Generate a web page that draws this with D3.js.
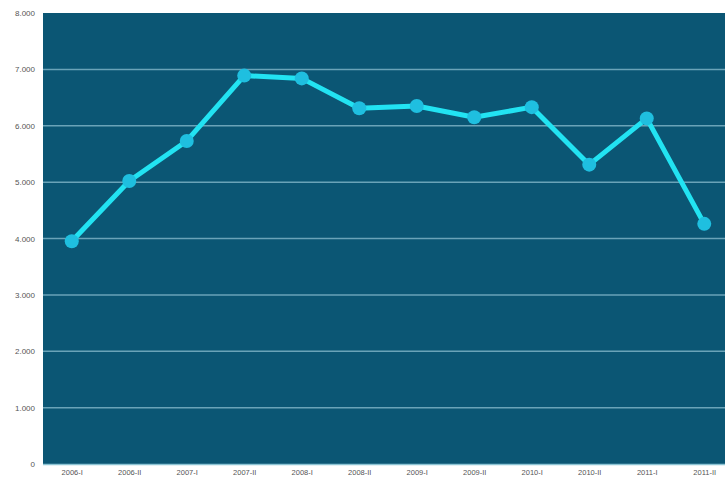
<!DOCTYPE html>
<html><head><meta charset="utf-8">
<script src="https://cdn.jsdelivr.net/npm/d3@7"></script>
<style>body{margin:0;background:#fff;overflow:hidden}</style>
</head><body>
<svg id="c" width="725" height="479"></svg>
<script>
const categories = ["2006-I","2006-II","2007-I","2007-II","2008-I","2008-II","2009-I","2009-II","2010-I","2010-II","2011-I","2011-II"];
const values = [3950, 5020, 5730, 6890, 6840, 6310, 6350, 6150, 6330, 5310, 6130, 4260];
const yTicks = [0,1000,2000,3000,4000,5000,6000,7000,8000];
const yTickLabels = ["0","1.000","2.000","3.000","4.000","5.000","6.000","7.000","8.000"];

const svg = d3.select("#c");
const m = {left: 43, top: 13, right: 733, bottom: 464};
const x = d3.scalePoint().domain(categories).range([m.left, m.right]).padding(0.5);
const y = d3.scaleLinear().domain([0, 8000]).range([m.bottom, m.top]);

svg.append("rect").attr("x", m.left).attr("y", m.top)
  .attr("width", m.right - m.left).attr("height", m.bottom - m.top).attr("fill", "#0b5674");

svg.append("g").selectAll("line").data(yTicks.filter(d => d > 0 && d < 8000)).join("line")
  .attr("x1", m.left).attr("x2", m.right).attr("y1", d => y(d)).attr("y2", d => y(d))
  .attr("stroke", "#6aa3b8").attr("stroke-width", 1.5);

svg.append("line").attr("x1", m.left).attr("x2", m.right).attr("y1", m.bottom + 0.5).attr("y2", m.bottom + 0.5)
  .attr("stroke", "#8cc4d4").attr("stroke-width", 1.5);

const yAxis = d3.axisLeft(y).tickValues(yTicks).tickSize(0).tickPadding(8)
  .tickFormat((d, i) => yTickLabels[i]);
const gy = svg.append("g").attr("transform", `translate(${m.left},0)`).call(yAxis);
gy.select(".domain").remove();
gy.selectAll("text").attr("font-family", "Liberation Sans, Arial, sans-serif").attr("font-size", 8).attr("fill", "#555");

const xAxis = d3.axisBottom(x).tickSize(0).tickPadding(6);
const gx = svg.append("g").attr("transform", `translate(0,${m.bottom})`).call(xAxis);
gx.select(".domain").remove();
gx.selectAll("text").attr("font-family", "Liberation Sans, Arial, sans-serif").attr("font-size", 7.5).attr("fill", "#555");

const line = d3.line().x((d, i) => x(categories[i])).y(d => y(d));
svg.append("path").datum(values).attr("d", line).attr("fill", "none")
  .attr("stroke", "#22e3f2").attr("stroke-width", 5).attr("stroke-linejoin", "round");

svg.append("g").selectAll("circle").data(values).join("circle")
  .attr("cx", (d, i) => x(categories[i])).attr("cy", d => y(d)).attr("r", 7)
  .attr("fill", "#1fbfe0");
</script>
</body></html>
